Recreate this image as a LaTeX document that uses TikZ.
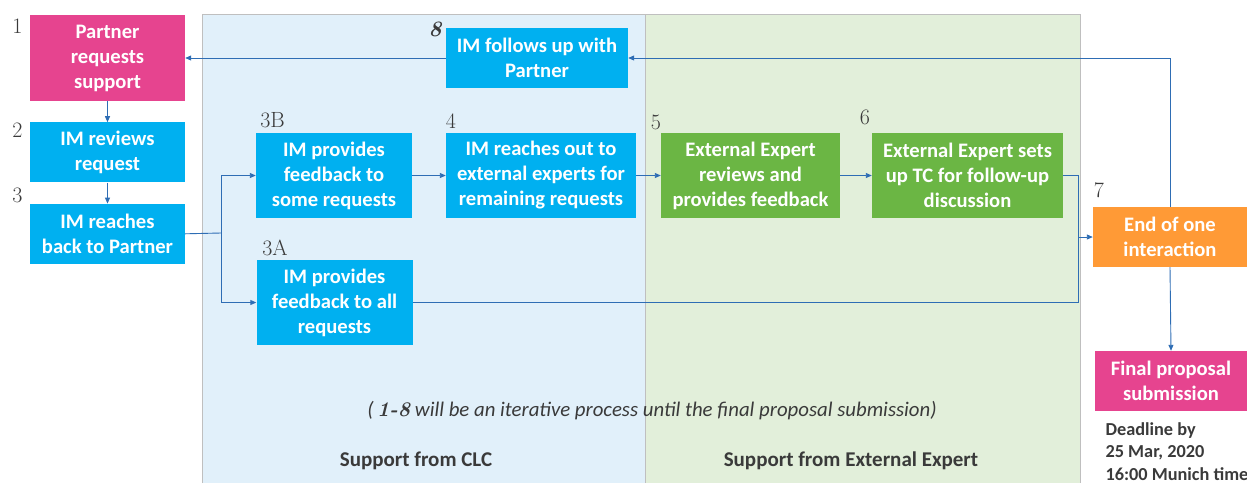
\documentclass[tikz,border=0pt]{standalone}
\usepackage{fontspec}
\newfontfamily\calib{Carlito}
\usepackage{tikz}
\usetikzlibrary {arrows.meta,
                 calc,
                 positioning}
\definecolor{pinkbox}{HTML}{E6448F}
\definecolor{bluebox}{HTML}{00B0F0}
\definecolor{greenbox}{HTML}{6BB644}
\definecolor{orangebox}{HTML}{FF9A36}
\definecolor{clcpanel}{HTML}{E1F0FA}
\definecolor{exppanel}{HTML}{E2EFDA}
\definecolor{linkblue}{HTML}{2E6DB4}
\definecolor{darktext}{HTML}{3A3A3A}
\tikzset{
        base/.style={align=center, inner sep=0pt, text=white,
                     font=\calib\bfseries\fontsize{20.6}{25}\selectfont},
        imbox/.style={base, fill=bluebox, minimum height=60pt},
        partnerbox/.style={base, fill=pinkbox, minimum height=60pt},
        expbox/.style={base, fill=greenbox, minimum height=85pt},
        endbox/.style={base, fill=orangebox, minimum height=60pt},
        num/.style={inner sep=0pt, text=darktext,
                    font=\fontsize{22}{22}\selectfont},
        panel/.style={draw=black!25, line width=0.8pt},
        paneltext/.style={text=darktext,
                    font=\calib\bfseries\fontsize{21}{25}\selectfont},
        myarrow/.style={-{Triangle[length=6pt,width=5pt]}, draw=linkblue,
                        line width=0.9pt},
        myline/.style={draw=linkblue, line width=0.9pt},
 }
\begin{document}
\begin{tikzpicture}[x=1pt,y=-1pt]
        \useasboundingbox (0,0) rectangle (1247,483);
        % Hintergrund
        \fill[clcpanel] (202,14) rectangle (645,483);
        \fill[exppanel] (645,14) rectangle (1080,483);
        \draw[panel] (202,483) -- (202,14) -- (1080,14) -- (1080,483);
        \draw[panel] (645,14) -- (645,483);

        \node[partnerbox, minimum width=155pt, minimum height=86pt]
              (partner) at (107.5,58) {Partner\\requests\\support};
        \node[imbox, minimum width=155pt, below = 21pt of partner]
              (review) {IM reviews\\request};
        \node[imbox, minimum width=155pt, below = 21pt of review]
              (reach) {IM reaches\\back to Partner};

        \node[imbox, minimum width=156pt, minimum height=85pt]
              (somefb) at (334,175.5) {IM provides\\feedback to\\some requests};
        \node[imbox, minimum width=156pt, minimum height=85pt]
              (allfb) at (334.5,302.5) {IM provides\\feedback to all\\requests};
        \node[imbox, minimum width=190pt, minimum height=85pt]
              (outreach) at (541,175.5) {IM reaches out to\\external experts for\\remaining requests};
        \node[expbox, minimum width=179pt]
              (exprev) at (750.5,175.5) {External Expert\\reviews and\\provides feedback};
        \node[expbox, minimum width=191pt]
              (exptc) at (967.5,175.5) {External Expert sets\\up TC for follow-up\\discussion};
        \node[endbox, minimum width=154pt]
              (endint) at (1170,237) {End of one\\interaction};
        \node[imbox, minimum width=182pt]
              (followup) at (537,58) {IM follows up with\\Partner};
        \node[partnerbox, minimum width=152pt]
              (final) at (1171,381) {Final proposal\\submission};

        \node[paneltext, align=left, anchor=north west,
              font=\calib\bfseries\fontsize{18.3}{22.5}\selectfont]
              (deadline) at (1102,419) {Deadline by\\25 Mar, 2020\\16:00 Munich time};

        % Nummern
        \node[num] (n1) at (17.5,26) {1};
        \node[num] (n2) at (17.5,130) {2};
        \node[num] (n3) at (17.5,195) {3};
        \node[num] (n3b) at (272.5,120) {3B};
        \node[num] (n3a) at (275,248) {3A};
        \node[num] (n4) at (451,121) {4};
        \node[num] (n5) at (656,122) {5};
        \node[num] (n6) at (865,117.5) {6};
        \node[num] (n7) at (1099,190.5) {7};
        \node[num, font=\bfseries\itshape\fontsize{22}{22}\selectfont]
              (n8) at (435,29.5) {8};

        \node[text=darktext, font=\calib\itshape\fontsize{20.8}{25}\selectfont]
              (note) at (652,411) {(\,{\rmfamily\bfseries\itshape 1-8} will be an
              iterative process until the final proposal submission)};
        \node[paneltext] (clc) at (416,461) {Support from CLC};
        \node[paneltext] (ext) at (851,461) {Support from External Expert};

        \coordinate (split) at (221,233);
        \coordinate (merge) at (1078,237);

        \draw[myarrow] (partner) -- (review);
        \draw[myarrow] (review) -- (reach);
        \draw[myline] (reach.east) -- (split);
        \draw[myarrow] (split) |- (somefb.west);
        \draw[myarrow] (split) |- (allfb.west);
        \draw[myarrow] (somefb) -- (outreach);
        \draw[myarrow] (outreach) -- (exprev);
        \draw[myarrow] (exprev) -- (exptc);
        \draw[myline] (exptc.east) -| (merge);
        \draw[myline] (allfb.east) -| (merge);
        \draw[myarrow] (merge) -- (endint.west);
        \draw[myarrow] (endint.south) -- (final.north);
        \draw[myarrow] (endint.north) |- (followup.east);
        \draw[myarrow] (followup.west) -- (partner.east);
\end{tikzpicture}
\end{document}
